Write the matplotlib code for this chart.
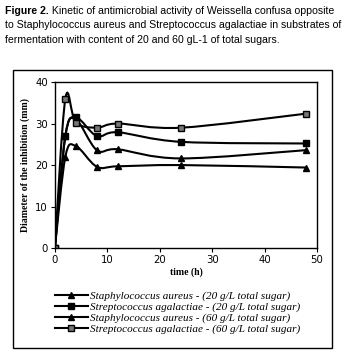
import numpy as np
import matplotlib.pyplot as plt
from matplotlib.path import Path
from matplotlib.patches import PathPatch, Rectangle
from matplotlib.lines import Line2D

# Datos
tiempo = [0, 2, 4, 8, 12, 24, 48]
staph_20 = [0, 22, 24.6, 19.6, 19.7, 20.0, 19.4]
strep_20 = [0, 27, 31.5, 27.0, 27.9, 25.6, 25.2]
staph_60 = [0, 27, 31.0, 23.6, 23.8, 21.6, 23.6]
strep_60 = [0, 36, 30.2, 29.0, 30.0, 29.0, 32.4]

etiquetas = [
    "Staphylococcus aureus - (20 g/L total sugar)",
    "Streptococcus agalactiae - (20 g/L total sugar)",
    "Staphylococcus aureus - (60 g/L total sugar)",
    "Streptococcus agalactiae - (60 g/L total sugar)",
]
marcadores = ["^", "s", "^", "s"]
relleno = ["black", "black", "black", "#777777"]

caption_bold = "Figure 2."
caption_lineas = [
    " Kinetic of antimicrobial activity of Weissella confusa opposite",
    "to Staphylococcus aureus and Streptococcus agalactiae in substrates of",
    "fermentation with content of 20 and 60 gL-1 of total sugars.",
]


def curva_suave(ax, x, y, **kw):
    # curva suavizada tipo Excel (Catmull-Rom a Bezier)
    x = np.asarray(x, float)
    y = np.asarray(y, float)
    verts = [(x[0], y[0])]
    codes = [Path.MOVETO]
    n = len(x)
    for i in range(n - 1):
        p0 = (x[max(i - 1, 0)], y[max(i - 1, 0)])
        p1 = (x[i], y[i])
        p2 = (x[i + 1], y[i + 1])
        p3 = (x[min(i + 2, n - 1)], y[min(i + 2, n - 1)])
        c1 = (p1[0] + (p2[0] - p0[0]) / 6, p1[1] + (p2[1] - p0[1]) / 6)
        c2 = (p2[0] - (p3[0] - p1[0]) / 6, p2[1] - (p3[1] - p1[1]) / 6)
        verts += [c1, c2, p2]
        codes += [Path.CURVE4] * 3
    ax.add_patch(PathPatch(Path(verts, codes), fill=False, **kw))


fig = plt.figure(figsize=(3.43, 3.6), dpi=100)

# titulo de la figura
fam_cap = ["Liberation Sans Narrow", "Liberation Sans", "DejaVu Sans"]
tam_cap = 7.6
y0 = 1 - 6 / 360
paso = 14.5 / 360
t = fig.text(0.015, y0, caption_bold, fontsize=tam_cap, fontweight="bold",
             family=fam_cap, va="top", ha="left")
fig.canvas.draw()
x1 = t.get_window_extent().x1 / fig.bbox.width
fig.text(x1, y0, caption_lineas[0], fontsize=tam_cap, family=fam_cap,
         va="top", ha="left")
for i, linea in enumerate(caption_lineas[1:], start=1):
    fig.text(0.015, y0 - i * paso, linea, fontsize=tam_cap, family=fam_cap,
             va="top", ha="left")

# marco
fig.patches.append(Rectangle((13 / 343, 1 - 348 / 360), 319 / 343, 278 / 360,
                             transform=fig.transFigure, fill=False,
                             edgecolor="black", linewidth=1.0))

ax = fig.add_axes([0.160, 0.311, 0.764, 0.461])
series = [staph_20, strep_20, staph_60, strep_60]
for s, m, c in zip(series, marcadores, relleno):
    curva_suave(ax, tiempo, s, edgecolor="black", linewidth=1.5)
    ax.plot(tiempo, s, linestyle="none", marker=m, markersize=4,
            markerfacecolor=c, markeredgecolor="black")

ax.set_xlim(0, 50)
ax.set_ylim(0, 40)
ax.set_xticks([0, 10, 20, 30, 40, 50])
ax.set_yticks([0, 10, 20, 30, 40])
ax.tick_params(labelsize=7.3, length=3, width=0.8, pad=2)
for sp in ax.spines.values():
    sp.set_linewidth(1.0)
ax.set_xlabel("time (h)", family="Liberation Serif", fontweight="bold",
              fontsize=7, labelpad=2)
ax.set_ylabel("Diameter of the inhibition (mm)", family="Liberation Serif",
              fontweight="bold", fontsize=7, labelpad=4)

handles = [Line2D([], [], color="black", linewidth=1.5, marker=m, markersize=4,
                  markerfacecolor=c, markeredgecolor="black")
           for m, c in zip(marcadores, relleno)]
fig.legend(handles, etiquetas, loc="upper left", bbox_to_anchor=(0.145, 0.207),
           frameon=False, handlelength=2.9, handletextpad=0.2, labelspacing=0.08,
           prop={"family": "Liberation Serif", "style": "italic", "size": 8},
           borderpad=0)

fig.savefig("out.png", dpi=100)
